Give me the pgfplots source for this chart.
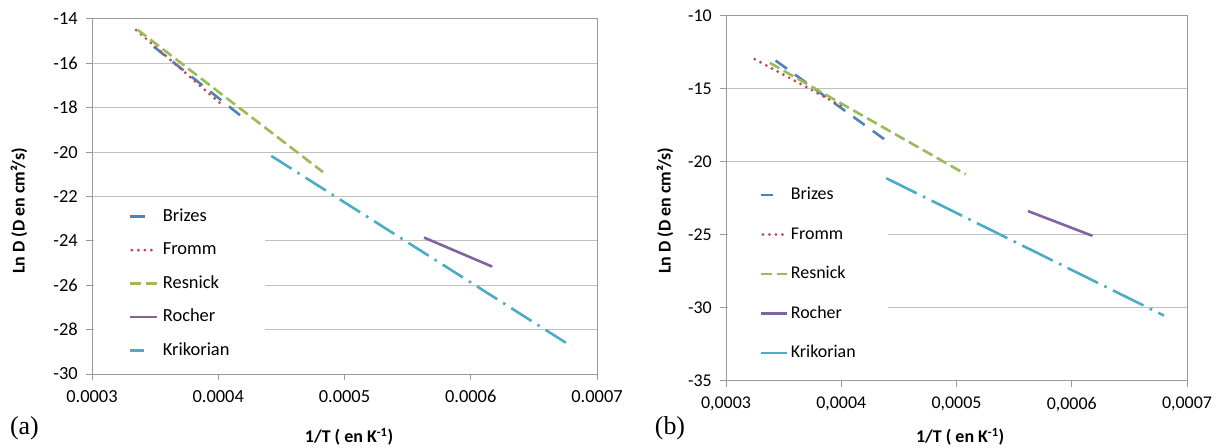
\documentclass[border=0pt]{standalone}
\usepackage{pgfplots}
\pgfplotsset{compat=1.18}
\usepackage{fontspec}
\setmainfont{Carlito}
\newfontfamily\timesfont{Liberation Serif}
\definecolor{cBlue}{HTML}{4F81BD}
\definecolor{cRed}{HTML}{C0504D}
\definecolor{cGreen}{HTML}{9BBB59}
\definecolor{cPurple}{HTML}{8064A2}
\definecolor{cCyan}{HTML}{4BACC6}
\definecolor{cFrame}{HTML}{9A9A9A}
\definecolor{cGrid}{HTML}{C0C0C0}

\pgfplotsset{
  excel/.style={
    scale only axis,
    clip mode=individual,
    axis line style={cFrame, line width=1bp},
    major tick style={cFrame, line width=1bp},
    tick align=outside,
    major tick length=6bp,
    xtick pos=bottom, ytick pos=left,
    ymajorgrids,
    major grid style={cGrid, line width=1bp},
    scaled x ticks=false,
    scaled y ticks=false,
    xmin=0.0003, xmax=0.0007,
    xtick={0.0003,0.0004,0.0005,0.0006,0.0007},
    legend cell align=left,
    every axis plot/.append style={line width=2.6bp},
  },
  brizes/.style={cBlue, line width=2.6bp, dash pattern=on 14bp off 10bp},
  fromm/.style={cRed, line width=3.2bp, line cap=round, dash pattern=on 0bp off 6.5bp},
  resnick/.style={cGreen, line width=2.6bp, dash pattern=on 11bp off 5bp},
  rocher/.style={cPurple, line width=2.6bp, solid},
  krikA/.style={cCyan, line width=2.6bp, dash pattern=on 24bp off 7bp on 2.6bp off 7bp},
  krikB/.style={cCyan, line width=2.6bp, dash pattern=on 34bp off 7bp on 2.6bp off 7bp},
  legsolidA/.style={legend image code/.code={\draw[##1, solid] (0bp,0bp) -- (15bp,0bp);}},
  legsolidB/.style={legend image code/.code={\draw[##1, solid] (0bp,0bp) -- (12bp,0bp);}},
  legsolidC/.style={legend image code/.code={\draw[##1, solid] (0bp,0bp) -- (14bp,0bp);}},
  legfullA/.style={legend image code/.code={\draw[##1] (0bp,0bp) -- (27bp,0bp);}},
  legfullB/.style={legend image code/.code={\draw[##1] (0bp,0bp) -- (26bp,0bp);}},
  legsolidfullB/.style={legend image code/.code={\draw[##1, solid] (0bp,0bp) -- (26bp,0bp);}},
  legdotA/.style={legend image code/.code={\draw[##1] (1.6bp,0bp) -- (27bp,0bp);}},
  legdotB/.style={legend image code/.code={\draw[##1] (1.6bp,0bp) -- (26bp,0bp);}},
}

\begin{document}
\begin{tikzpicture}
\path[use as bounding box] (0,0) rectangle (1221bp,448bp);

% ---------------- panel (a)
\begin{axis}[excel,
  at={(92bp,74bp)}, anchor=south west,
  width=505bp, height=355bp,
  ymin=-30, ymax=-14,
  ytick={-30,-28,-26,-24,-22,-20,-18,-16,-14},
  yticklabels={-30,-28,-26,-24,-22,-20,-18,-16,-14},
  xticklabels={0.0003,0.0004,0.0005,0.0006,0.0007},
  tick label style={font=\fontsize{18.5}{22}\selectfont},
  xticklabel style={inner sep=0pt, anchor=north, yshift=-10bp},
  yticklabel style={inner sep=0pt, anchor=east, xshift=-8bp},
  xlabel={1/T ( en K\textsuperscript{-1})},
  ylabel={Ln D (D en cm²/s)},
  xlabel style={at={(axis description cs:0.509,-0.1775)}, anchor=center, font=\bfseries\fontsize{18}{22}\selectfont},
  ylabel style={at={(axis description cs:-0.1446,0.459)}, anchor=center, font=\bfseries\fontsize{18}{22}\selectfont},
  legend style={draw=none, fill=white, outer sep=0pt,
    at={(axis description cs:0,0.487)}, anchor=north west, xshift=1.5bp,
    inner xsep=35.5bp, inner ysep=7bp,
    font=\fontsize{18.5}{22}\selectfont,
    nodes={inner sep=0pt, text height=13bp, text depth=4bp},
    row sep=16.5bp, column sep=4bp},
]
\addplot[brizes, legsolidA]
  coordinates {(0.000349,-15.25) (0.000422,-18.55)};
\addlegendentry{Brizes}
\addplot[fromm, legdotA]
  coordinates {(0.000335,-14.5) (0.000403,-17.87)};
\addlegendentry{Fromm}
\addplot[resnick, legfullA]
  coordinates {(0.000336,-14.48) (0.000483,-20.9)};
\addlegendentry{Resnick}
\addplot[rocher, legfullA]
  coordinates {(0.000563,-23.85) (0.000617,-25.16)};
\addlegendentry{Rocher}
\addplot[krikA, legsolidC]
  coordinates {(0.000442,-20.17) (0.00068,-28.76)};
\addlegendentry{Krikorian}
\node[font=\timesfont\fontsize{26}{30}\selectfont, anchor=center] at (axis description cs:-0.1337,-0.152) {(a)};
\end{axis}

% ---------------- panel (b)
\begin{axis}[excel,
  at={(726bp,67bp)}, anchor=south west,
  width=461bp, height=365bp,
  ymin=-35, ymax=-10,
  ytick={-35,-30,-25,-20,-15,-10},
  yticklabels={-35,-30,-25,-20,-15,-10},
  xticklabels={{0,0003},{0,0004},{0,0005},{0,0006},{0,0007}},
  tick label style={font=\fontsize{18}{22}\selectfont},
  xticklabel style={inner sep=0pt, anchor=north, yshift=-10bp},
  yticklabel style={inner sep=0pt, anchor=east, xshift=-8bp},
  xlabel={1/T ( en K\textsuperscript{-1})},
  ylabel={Ln D (D en cm²/s)},
  xlabel style={at={(axis description cs:0.508,-0.153)}, anchor=center, font=\bfseries\fontsize{18}{22}\selectfont},
  ylabel style={at={(axis description cs:-0.1323,0.466)}, anchor=center, font=\bfseries\fontsize{18}{22}\selectfont},
  legend style={draw=none, fill=white, outer sep=0pt,
    at={(axis description cs:0,0.552)}, anchor=north west, xshift=1.5bp,
    inner xsep=32.5bp, inner ysep=7bp,
    font=\fontsize{18}{22}\selectfont,
    nodes={inner sep=0pt, text height=13bp, text depth=4bp},
    row sep=22.5bp, column sep=2bp},
]
\addplot[brizes, legsolidB]
  coordinates {(0.000343,-13.05) (0.000441,-18.65)};
\addlegendentry{Brizes}
\addplot[fromm, legdotB]
  coordinates {(0.000325,-12.96) (0.000403,-16.29)};
\addlegendentry{Fromm}
\addplot[resnick, legfullB]
  coordinates {(0.000338,-13.21) (0.000508,-20.84)};
\addlegendentry{Resnick}
\addplot[rocher, legfullB]
  coordinates {(0.000562,-23.36) (0.000618,-25.06)};
\addlegendentry{Rocher}
\addplot[krikB, legsolidfullB]
  coordinates {(0.000439,-21.11) (0.00068,-30.52)};
\addlegendentry{Krikorian}
\node[font=\timesfont\fontsize{26}{30}\selectfont, anchor=center] at (axis description cs:-0.1215,-0.1288) {(b)};
\end{axis}
\end{tikzpicture}
\end{document}
